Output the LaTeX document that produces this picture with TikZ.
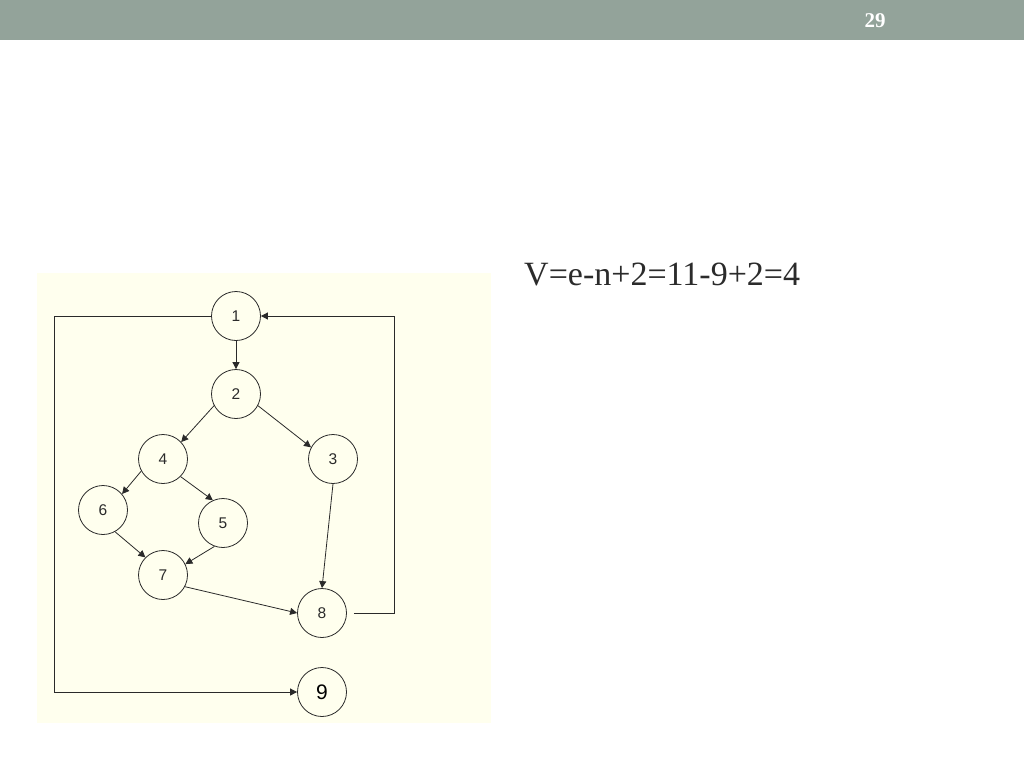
\documentclass[tikz,border=0pt]{standalone}
\usepackage{fontspec}
\setmainfont{Liberation Serif}
\newfontfamily\nodefont{Liberation Sans}
\usetikzlibrary{arrows.meta}
\definecolor{barcol}{HTML}{93A39A}
\definecolor{panelcol}{HTML}{FFFFEE}
\definecolor{linecol}{HTML}{2A2A2A}
\definecolor{txtcol}{HTML}{2B2B2B}
\tikzset{
  vert/.style={circle, draw=linecol, line width=0.8pt, minimum size=49pt, inner sep=0pt, font=\nodefont\fontsize{15.5}{15.5}\selectfont, text=txtcol},
  edge/.style={draw=linecol, line width=0.8pt, -{Triangle[length=7pt,width=7pt]}}
}
\begin{document}
\begin{tikzpicture}[x=1pt,y=-1pt]
\useasboundingbox (0,0) rectangle (1024,768);
\fill[white] (0,0) rectangle (1024,768);
\fill[barcol] (0,0) rectangle (1024,40);
\node[text=white, font=\bfseries\fontsize{21}{21}\selectfont] (pg) at (875,21) {29};
\fill[panelcol] (37,273) rectangle (491,723);
\node[anchor=base west, inner sep=0pt, text=txtcol, font=\fontsize{34}{34}\selectfont] (formula) at (524,285) {V=e-n+2=11-9+2=4};
\node[vert] (n1) at (236,316) {1};
\node[vert] (n2) at (236,394) {2};
\node[vert] (n3) at (333,459) {3};
\node[vert] (n4) at (163,459) {4};
\node[vert] (n5) at (223,523) {5};
\node[vert] (n6) at (103,510) {6};
\node[vert] (n7) at (163,575) {7};
\node[vert] (n8) at (322,613) {8};
\node[vert, font=\nodefont\fontsize{21}{21}\selectfont, text=black] (n9) at (322,692) {9};
\coordinate (r1) at (394,613);
\coordinate (r2) at (394,316);
\coordinate (l1) at (54,316);
\coordinate (l2) at (54,692);
\draw[edge] (n1) -- (n2);
\draw[edge] (n2.208) -- (n4.43);
\draw[edge] (n2.-28) -- (n3.152);
\draw[edge] (n4.209) -- (n6.40);
\draw[edge] (n4.-45) -- (n5.114);
\draw[edge] (n6.-61) -- (n7.135);
\draw[edge] (n5.250) -- (n7.26);
\draw[edge] (n7.-28) -- (n8.west);
\draw[edge] (n3.south) -- (n8.north);
\draw[edge, shorten <=7pt] (n8.east) -- (r1) -- (r2) -- (n1.east);
\draw[edge] (n1.west) -- (l1) -- (l2) -- (n9.west);
\end{tikzpicture}
\end{document}
